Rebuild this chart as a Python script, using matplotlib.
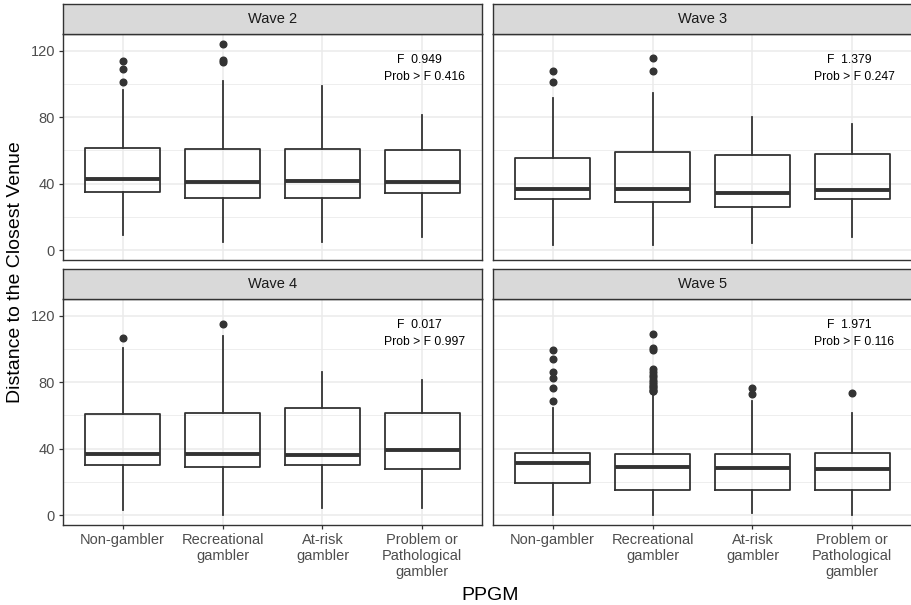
import matplotlib
matplotlib.use("Agg")
import matplotlib.pyplot as plt
from matplotlib.patches import Rectangle

plt.rcParams['font.family'] = ['Liberation Sans', 'DejaVu Sans']

# categories and the panels
groups = ["Non-gambler", "Recreational\ngambler", "At-risk\ngambler",
          "Problem or\nPathological\ngambler"]
waves = ["Wave 2", "Wave 3", "Wave 4", "Wave 5"]

# box stats, one list per wave
q1 = {"Wave 2": [35.2, 31.5, 31.5, 34.2],
      "Wave 3": [30.6, 29.0, 26.1, 30.6],
      "Wave 4": [30.1, 28.7, 30.1, 27.9],
      "Wave 5": [19.1, 14.9, 14.9, 14.9]}
med = {"Wave 2": [42.6, 41.0, 41.6, 41.0],
       "Wave 3": [37.0, 36.6, 34.2, 36.2],
       "Wave 4": [36.9, 36.7, 35.9, 39.0],
       "Wave 5": [31.1, 29.1, 28.1, 27.7]}
q3 = {"Wave 2": [61.7, 61.0, 61.0, 60.3],
      "Wave 3": [55.7, 58.9, 57.3, 57.7],
      "Wave 4": [60.6, 61.2, 64.2, 61.6],
      "Wave 5": [37.3, 36.7, 36.7, 37.1]}
whislo = {"Wave 2": [9, 5, 5, 8],
          "Wave 3": [3, 3, 4, 7.7],
          "Wave 4": [3, 0, 4, 4],
          "Wave 5": [0, 0, 1, 0]}
whishi = {"Wave 2": [96.5, 102, 99, 81.4],
          "Wave 3": [91.5, 94.9, 80, 76],
          "Wave 4": [100.7, 107.8, 85.9, 81.3],
          "Wave 5": [64.6, 73.3, 68.8, 61.2]}
fliers = {"Wave 2": [[114, 109, 101], [124, 114.6, 113.6], [], []],
          "Wave 3": [[108, 101], [115.8, 108], [], []],
          "Wave 4": [[106.6], [115.4], [], []],
          "Wave 5": [[99.3, 94.3, 86.3, 82.3, 76.7, 68.8],
                     [109, 100.7, 99.3, 88, 86, 84.5, 83, 81.5, 80, 79, 78,
                      77, 76, 75, 74.5],
                     [76.7, 72.8], [73.3]]}

# ANOVA results printed in each panel
f_stat = {"Wave 2": "0.949", "Wave 3": "1.379", "Wave 4": "0.017", "Wave 5": "1.971"}
p_val = {"Wave 2": "0.416", "Wave 3": "0.247", "Wave 4": "0.997", "Wave 5": "0.116"}

W, H = 911, 605
fig = plt.figure(figsize=(W / 100, H / 100), dpi=100)
fig.patch.set_facecolor('white')

dark = '#333333'
pw = 419.6
# panel boxes in pixels: left, top, bottom
panels = {"Wave 2": (62.7, 34, 260.3),
          "Wave 3": (492.7, 34, 260.3),
          "Wave 4": (62.7, 299, 525.3),
          "Wave 5": (492.7, 299, 525.3)}

for i, w in enumerate(waves):
    left, top, bot = panels[w]
    ax = fig.add_axes([left / W, 1 - bot / H, pw / W, (bot - top) / H])
    ax.set_facecolor('white')
    stats = []
    for j in range(4):
        stats.append(dict(med=med[w][j], q1=q1[w][j], q3=q3[w][j],
                          whislo=whislo[w][j], whishi=whishi[w][j],
                          fliers=fliers[w][j]))
    ax.bxp(stats, positions=[1, 2, 3, 4], widths=0.75, showcaps=False,
           boxprops=dict(color=dark, linewidth=1.3),
           whiskerprops=dict(color=dark, linewidth=1.3),
           medianprops=dict(color=dark, linewidth=2.8, solid_capstyle='butt'),
           flierprops=dict(marker='o', markerfacecolor=dark, markeredgecolor=dark,
                           markersize=4.8, linestyle='none'),
           zorder=3)
    ax.set_xlim(0.4, 4.6)
    ax.set_ylim(-6.2, 130.2)
    ax.set_yticks([0, 40, 80, 120])
    ax.set_yticks([20, 60, 100], minor=True)
    ax.set_xticks([1, 2, 3, 4])
    ax.grid(which='major', color='#EBEBEB', linewidth=1.1, zorder=0)
    ax.grid(which='minor', axis='y', color='#EBEBEB', linewidth=0.6, zorder=0)
    ax.set_axisbelow(True)
    for s in ax.spines.values():
        s.set_color(dark)
        s.set_linewidth(1.0)
    ax.tick_params(which='minor', length=0)
    ax.tick_params(which='major', color=dark, length=3, width=0.9,
                   labelcolor='#4D4D4D', labelsize=10.5, pad=2.5)
    if i % 2 == 1:
        ax.tick_params(axis='y', left=False, labelleft=False)
    if i < 2:
        ax.tick_params(axis='x', bottom=False, labelbottom=False)
    else:
        ax.set_xticklabels(groups, linespacing=1.17)

    # F test text
    ax.text(3.97, 114.7, "F  " + f_stat[w], ha='center', va='center',
            fontsize=8.7, color='black')
    ax.text(4.02, 104.2, "Prob > F " + p_val[w], ha='center', va='center',
            fontsize=8.7, color='black')

    # strip on top of the panel
    sax = fig.add_axes([left / W, 1 - top / H, pw / W, 30 / H])
    sax.set_xlim(0, 1)
    sax.set_ylim(0, 1)
    sax.add_patch(Rectangle((0, 0), 1, 1, facecolor='#D9D9D9', edgecolor='none'))
    sax.set_xticks([])
    sax.set_yticks([])
    for s in sax.spines.values():
        s.set_color(dark)
        s.set_linewidth(1.0)
    sax.text(0.5, 0.5, w, ha='center', va='center', fontsize=10.5, color='#1A1A1A')

fig.text(16 / W, 1 - 272 / H, "Distance to the Closest Venue", rotation=90,
         ha='center', va='center', fontsize=14, color='black')
fig.text(490 / W, 1 - 595 / H, "PPGM", ha='center', va='center',
         fontsize=14, color='black')

fig.savefig("out.png", dpi=100, facecolor='white')
